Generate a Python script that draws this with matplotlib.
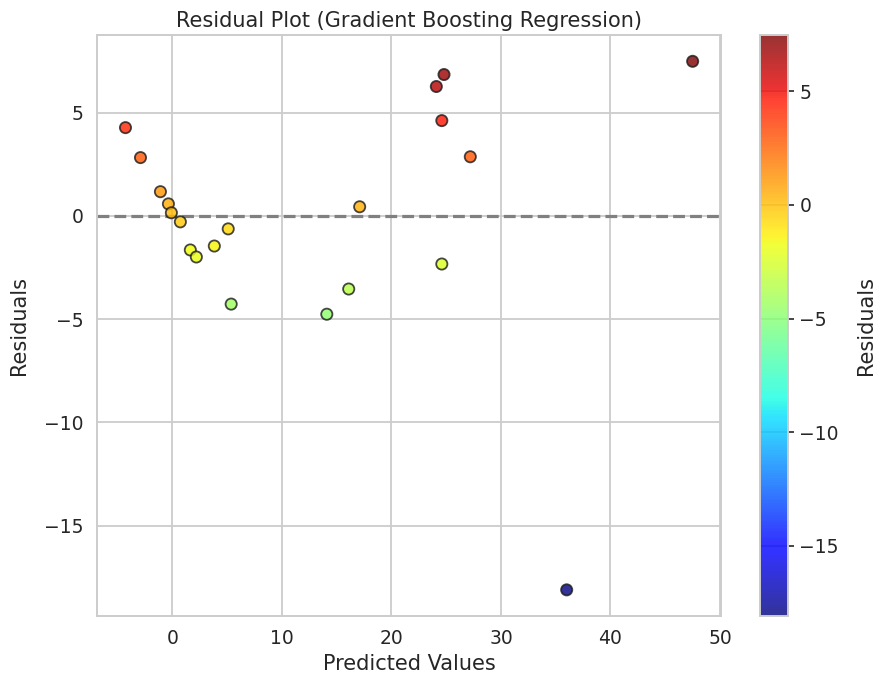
import matplotlib
matplotlib.use("Agg")
import matplotlib.pyplot as plt
import seaborn as sns
import numpy as np

sns.set_theme(style="whitegrid")
plt.rcParams["grid.linewidth"] = 1.3
plt.rcParams["axes.linewidth"] = 1.4

# values
predicted = np.array([-4.28, -2.91, -1.09, -0.36, -0.09, 0.73, 1.64, 2.19, 3.83, 5.10,
                      5.37, 14.1, 16.1, 17.1, 24.6, 24.1, 24.8, 24.6, 27.2, 47.5, 36.0])
residuals = np.array([4.27, 2.82, 1.17, 0.58, 0.15, -0.29, -1.65, -1.99, -1.46, -0.63,
                      -4.27, -4.76, -3.54, 0.44, -2.33, 6.26, 6.84, 4.61, 2.86, 7.48, -18.1])

fig = plt.figure(figsize=(8.75, 6.84), dpi=100)
ax = fig.add_axes([0.111, 0.099, 0.713, 0.850])
cax = fig.add_axes([0.869, 0.099, 0.032, 0.850])

sc = ax.scatter(predicted, residuals, c=residuals, cmap="jet", alpha=0.8,
                s=65, edgecolors="k", linewidths=1.3, zorder=3)
ax.axhline(0, color="gray", linestyle="--", linewidth=2.3, zorder=2)

ax.set_title("Residual Plot (Gradient Boosting Regression)", fontsize=15)
ax.set_xlabel("Predicted Values", fontsize=15)
ax.set_ylabel("Residuals", fontsize=15, labelpad=11)
ax.tick_params(labelsize=13.5)

cb = fig.colorbar(sc, cax=cax)
cb.set_label("Residuals", fontsize=15, labelpad=12)
cb.ax.tick_params(labelsize=13.5, length=4.5, width=1.2, color="0.15")
cb.outline.set_edgecolor("#cccccc")
cb.outline.set_linewidth(1.4)

fig.savefig("out.png", dpi=100)
